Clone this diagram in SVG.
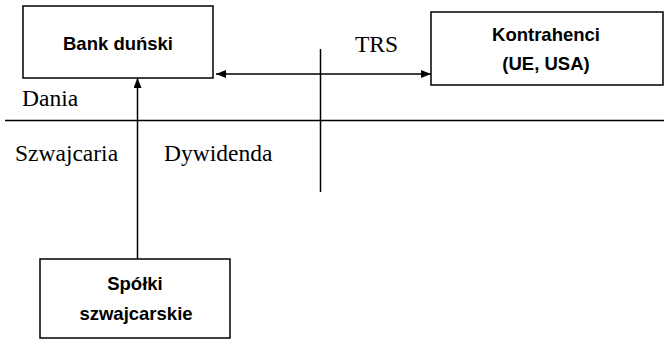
<svg xmlns="http://www.w3.org/2000/svg" width="664" height="339" viewBox="0 0 664 339">
<style>
.box{fill:#fff;stroke:#000;stroke-width:1.5}
.lbl{font-family:"Liberation Sans",Arial,sans-serif;font-weight:bold;font-size:18.5px;text-anchor:middle;fill:#000}
.ser{font-family:"Liberation Serif","Times New Roman",serif;font-size:23.5px;fill:#000}
.ln{stroke:#000;stroke-width:1.5;fill:none}
</style>
<defs>
<marker id="ah" viewBox="0 0 10 8" refX="10" refY="4" markerWidth="10" markerHeight="8" markerUnits="userSpaceOnUse" orient="auto-start-reverse">
<path d="M0,0 L10,4 L0,8 Z" fill="#000"/>
</marker>
</defs>
<rect width="664" height="339" fill="#fff"/>
<g id="connectors">
<line class="ln" x1="5" y1="120.5" x2="664" y2="120.5"/>
<line class="ln" x1="320.5" y1="49" x2="320.5" y2="192"/>
<line class="ln" x1="216" y1="74" x2="431" y2="74" marker-start="url(#ah)" marker-end="url(#ah)"/>
<line class="ln" x1="137.5" y1="259" x2="137.5" y2="78" marker-end="url(#ah)"/>
</g>
<g id="bank">
<rect class="box" x="23" y="6" width="190" height="72"/>
<text class="lbl" x="118" y="50">Bank duński</text>
</g>
<g id="kontrahenci">
<rect class="box" x="431" y="12" width="232" height="73"/>
<text class="lbl" x="546" y="41">Kontrahenci</text>
<text class="lbl" x="546" y="70">(UE, USA)</text>
</g>
<g id="spolki">
<rect class="box" x="40" y="259" width="190" height="79"/>
<text class="lbl" x="135" y="290">Spółki</text>
<text class="lbl" x="136" y="320">szwajcarskie</text>
</g>
<g id="labels">
<text class="ser" x="355" y="52">TRS</text>
<text class="ser" x="22" y="106">Dania</text>
<text class="ser" x="15" y="161">Szwajcaria</text>
<text class="ser" x="164" y="161">Dywidenda</text>
</g>
</svg>
